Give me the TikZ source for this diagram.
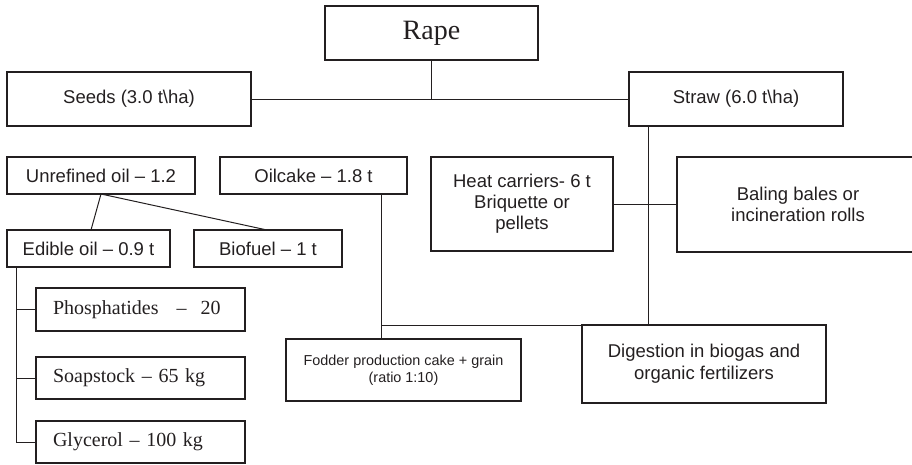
\documentclass[tikz,border=0pt]{standalone}
\usepackage{fontspec}
\setmainfont{Liberation Serif}
\setsansfont{Liberation Sans}
\definecolor{ink}{HTML}{231F20}
\begin{document}
\begin{tikzpicture}[x=1pt,y=-1pt,
  box/.style={draw=ink, line width=1.8pt, rectangle, inner sep=0pt, outer sep=0pt,
    align=center, text=ink},
  sanslabel/.style={font=\sffamily\fontsize{18.5}{21}\selectfont},
  seriflabel/.style={font=\fontsize{20}{24}\selectfont, align=left,
    inner xsep=17pt, text width=175pt},
  link/.style={draw=ink, line width=1pt}]
\useasboundingbox (0,0) rectangle (912,464);

% top level
\node[box, minimum width=213pt, minimum height=54pt, font=\fontsize{28}{32}\selectfont]
  (rape) at (431.5,33) {Rape};
\node[box, sanslabel, minimum width=244pt, minimum height=54pt] (seeds) at (129,99) {Seeds (3.0 t\textbackslash ha)};
\node[box, sanslabel, minimum width=214pt, minimum height=54pt] (straw) at (736,99) {Straw (6.0 t\textbackslash ha)};

% seed products
\node[box, sanslabel, minimum width=188pt, minimum height=37pt] (unref) at (101,175.5) {Unrefined oil – 1.2};
\node[box, sanslabel, minimum width=187pt, minimum height=37pt] (oilcake) at (313.5,175.5) {Oilcake – 1.8 t};
\node[box, sanslabel, minimum width=163pt, minimum height=37pt] (edible) at (88.5,248.5) {Edible oil – 0.9 t};
\node[box, sanslabel, minimum width=148pt, minimum height=37pt] (biofuel) at (268,248.5) {Biofuel – 1 t};

% refining by-products
\node[box, seriflabel, minimum height=43pt] (phos) at (140.5,309.5) {Phosphatides\hspace{18pt}–\hspace{14pt}20};
\node[box, seriflabel, minimum height=42pt] (soap) at (140.5,378) {Soapstock – 65 kg};
\node[box, seriflabel, minimum height=42pt] (glyc) at (140.5,442) {Glycerol – 100 kg};

% straw products
\node[box, sanslabel, minimum width=182pt, minimum height=94pt] (heat) at (522,204) {Heat carriers- 6 t\\Briquette or\\pellets};
\node[box, sanslabel, minimum width=242pt, minimum height=95pt] (baling) at (798,204.5) {Baling bales or\\incineration rolls};
\node[box, font=\sffamily\fontsize{14.4}{17}\selectfont, minimum width=235pt, minimum height=62pt] (fodder) at (403.5,370) {Fodder production cake + grain\\(ratio 1:10)};
\node[box, font=\sffamily\fontsize{18.5}{22}\selectfont, minimum width=244pt, minimum height=78pt] (digest) at (704,364) {Digestion in biogas and\\organic fertilizers};

% connectors
\draw[link] (rape.south) -- (rape.south |- seeds.east);
\draw[link] (seeds.east) -- (straw.west);
\draw[link] (unref.south) -- ([xshift=2.5pt]edible.north);
\draw[link] (unref.south) -- ([xshift=-1pt]biofuel.north);
\draw[link] ([xshift=9pt]edible.south west) coordinate (efoot) -- (efoot |- glyc.west) -- (glyc.west);
\draw[link] (efoot |- phos.west) -- (phos.west);
\draw[link] (efoot |- soap.west) -- (soap.west);
\draw[link] ([xshift=19pt]straw.south west) coordinate (sfoot) -- (sfoot |- digest.north);
\draw[link] (heat.east) -- (heat.east -| baling.west);
\draw[link] ([xshift=-26pt]oilcake.south east) coordinate (ofoot) -- (ofoot |- fodder.north);
\draw[link] (ofoot |- digest.north) -- (sfoot |- digest.north);
\end{tikzpicture}
\end{document}
